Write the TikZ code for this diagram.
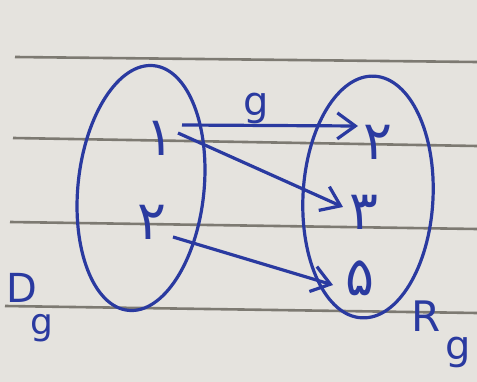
\documentclass[tikz,border=0pt]{standalone}
\usepackage{fontspec}
\setmainfont{DejaVu Sans}
\newfontfamily\arabicfont[Script=Arabic]{DejaVu Sans}
\TeXXeTstate=1
\usetikzlibrary{shapes.geometric,arrows.meta}
\definecolor{ink}{RGB}{42,58,160}
\definecolor{paper}{RGB}{229,227,222}
\definecolor{rule}{RGB}{125,122,114}
\tikzset{
  setshape/.style={draw=ink, line width=3.2pt, ellipse, inner sep=0pt},
  digit/.style={text=ink, font=\arabicfont\fontsize{54}{54}\selectfont, inner sep=0pt},
  lbl/.style={text=ink, inner sep=0pt},
  maparrow/.style={draw=ink, line width=3.2pt, -{Straight Barb[length=18pt,width=26pt,line width=3.2pt]}},
  paperline/.style={draw=rule, line width=2.6pt}
}
\begin{document}
\begin{tikzpicture}[x=1pt,y=-1pt]
\useasboundingbox (0,0) rectangle (477,382);
\fill[paper] (0,0) rectangle (477,382);
% ruled lines
\draw[paperline] (15,57) -- (477,62);
\draw[paperline] (13,138) -- (477,146);
\draw[paperline] (10,222) -- (477,229);
\draw[paperline] (5,306) -- (477,313);
% sets
\node[setshape, minimum width=126pt, minimum height=246pt, rotate=-6] (Dset) at (141,188) {};
\node[setshape, minimum width=130pt, minimum height=242pt, rotate=-3] (Rset) at (368,197) {};
% elements
\node[digit] (a1) at (160,138) {\beginR ۱\endR};
\node[digit] (a2) at (152,222) {\beginR ۲\endR};
\node[digit] (b2) at (378,142) {\beginR ۲\endR};
\node[digit] (b3) at (364,212) {\beginR ۳\endR};
\node[digit] (b5) at (360,278) {\beginR ۵\endR};
% arrows
\coordinate (s1) at (182,125);
\coordinate (s2) at (178,133);
\coordinate (s3) at (173,237);
\coordinate (t1) at (358,126);
\coordinate (t2) at (343,207);
\coordinate (t3) at (333,285);
\draw[maparrow] (s1) -- (t1);
\node[lbl, font=\fontsize{40}{40}\selectfont] (glbl) at (256,108) {g};
\draw[maparrow] (s2) -- (t2);
\draw[maparrow] (s3) -- (t3);
% labels
\node[lbl, font=\fontsize{40}{40}\selectfont] (D) at (22,288) {D};
\node[lbl, font=\fontsize{36}{36}\selectfont] (Dg) at (42,328) {g};
\node[lbl, font=\fontsize{42}{42}\selectfont] (R) at (426,316) {R};
\node[lbl, font=\fontsize{40}{40}\selectfont] (Rg) at (458,352) {g};
\end{tikzpicture}
\end{document}
